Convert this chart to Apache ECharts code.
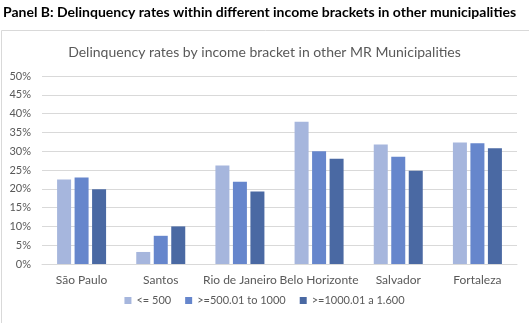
<!DOCTYPE html>
<html>
<head>
<meta charset="utf-8">
<script src="https://cdn.jsdelivr.net/npm/echarts@6/dist/echarts.min.js"></script>
<style>
html,body{margin:0;padding:0;background:#fff;}
#c{width:529px;height:323px;}
</style>
</head>
<body>
<div id="c"></div>
<script>
const categories = ['São Paulo', 'Santos', 'Rio de Janeiro', 'Belo Horizonte', 'Salvador', 'Fortaleza'];
const seriesNames = ['<= 500', '>=500.01 to 1000', '>=1000.01 a 1.600'];
const bracketLow = [22.5, 3.2, 26.2, 37.8, 31.8, 32.3];
const bracketMid = [23.0, 7.5, 21.9, 30.0, 28.5, 32.1];
const bracketHigh = [19.9, 10.0, 19.3, 28.0, 24.8, 30.8];
const yTicks = [0, 5, 10, 15, 20, 25, 30, 35, 40, 45, 50];

const colors = ['#A6B6DD', '#6686CC', '#4A69A3'];
const font = 'Lato, "Open Sans", sans-serif';
const chart = echarts.init(document.getElementById('c'), null, {renderer: 'canvas'});
const values = [bracketLow, bracketMid, bracketHigh];
chart.setOption({
  animation: false,
  textStyle: {fontFamily: font},
  graphic: [
    {type: 'rect', shape: {x: 1.5, y: 30.5, width: 540, height: 300}, style: {fill: 'none', stroke: '#D9D9D9', lineWidth: 1}, silent: true},
    {type: 'text', x: 3, y: 5, style: {text: 'Panel B: Delinquency rates within different income brackets in other municipalities', font: 'bold 14px ' + font, fill: '#000', textVerticalAlign: 'top'}}
  ],
  title: {
    text: 'Delinquency rates by income bracket in other MR Municipalities',
    left: 'center', top: 40,
    textStyle: {fontFamily: font, fontSize: 14, fontWeight: 'normal', color: '#595959'}
  },
  legend: {
    bottom: 12, left: 'center',
    itemWidth: 7, itemHeight: 7, itemGap: 14,
    icon: 'rect',
    textStyle: {fontFamily: font, fontSize: 11, color: '#595959'},
    data: seriesNames
  },
  grid: {left: 42, right: 12, top: 76, bottom: 59, containLabel: false},
  xAxis: {
    type: 'category', data: categories,
    axisLine: {lineStyle: {color: '#D9D9D9'}},
    axisTick: {show: false},
    axisLabel: {fontFamily: font, fontSize: 12, color: '#595959', margin: 10, interval: 0}
  },
  yAxis: {
    type: 'value', min: yTicks[0], max: yTicks[yTicks.length - 1], interval: 5,
    axisLine: {show: false}, axisTick: {show: false},
    splitLine: {lineStyle: {color: '#D9D9D9'}},
    axisLabel: {fontFamily: font, fontSize: 11, color: '#595959', margin: 11, formatter: v => v + '%'}
  },
  series: seriesNames.map((n, i) => ({
    name: n, type: 'bar', data: values[i],
    barWidth: 14, barGap: '25%',
    itemStyle: {color: colors[i]}
  }))
});
</script>
</body>
</html>
